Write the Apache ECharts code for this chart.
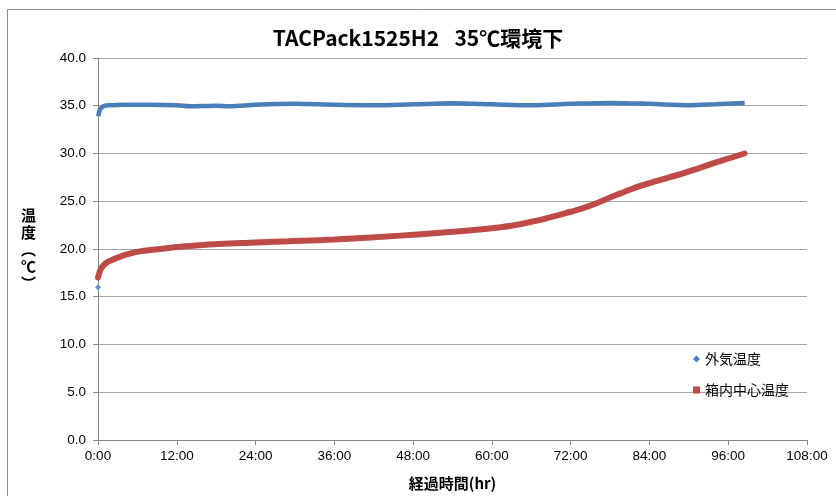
<!DOCTYPE html>
<html><head><meta charset="utf-8">
<script src="https://cdn.jsdelivr.net/npm/echarts@6/dist/echarts.min.js"></script>
<style>html,body{margin:0;padding:0;background:#fff}#c{width:836px;height:496px}</style>
</head><body><div id="c"></div>
<script>
const titleText = 'TACPack1525H2\u2002 35℃環境下';
const seriesNames = ['外気温度', '箱内中心温度'];
const xTicks = [0, 12, 24, 36, 48, 60, 72, 84, 96, 108];
const outsideFirstHour = [0];
const outsideFirstValue = [16.0];
const outsideHours = [0.05, 0.15, 0.3, 0.6, 1, 2, 4, 8, 12, 14, 18, 20, 24, 30, 36, 42, 48, 54, 60, 66, 72, 78, 84, 90, 94, 98.5];
const outsideValues = [33.9, 34.3, 34.6, 34.85, 35.0, 35.05, 35.1, 35.1, 35.05, 34.95, 35.0, 34.95, 35.1, 35.2, 35.1, 35.05, 35.15, 35.25, 35.15, 35.05, 35.2, 35.3, 35.2, 35.05, 35.15, 35.3];
const innerHours = [0, 0.2, 0.5, 1, 1.5, 2.3, 3, 4, 5, 6.4, 8, 9.4, 12, 15.5, 23, 29, 36, 46, 54, 61, 64.3, 66, 68, 70.4, 72, 74, 76.5, 78, 79.5, 81, 82.6, 85, 87, 89, 91.7, 95, 98.5];
const innerValues = [17.0, 17.5, 18.0, 18.4, 18.65, 18.9, 19.1, 19.35, 19.55, 19.75, 19.9, 20.0, 20.2, 20.4, 20.65, 20.8, 21.0, 21.4, 21.8, 22.25, 22.6, 22.85, 23.15, 23.6, 23.9, 24.3, 24.95, 25.4, 25.8, 26.2, 26.6, 27.1, 27.5, 27.9, 28.5, 29.25, 30.0];

const pair = (xs, ys) => xs.map((x, i) => [x, ys[i]]);
const blue = '#4a7ebb', red = '#be4b48';
const font = "'Liberation Sans', 'Noto Sans CJK JP', sans-serif";
const jp = "'Noto Sans CJK JP', sans-serif";

const chart = echarts.init(document.getElementById('c'), null, {renderer: 'canvas'});
chart.setOption({
  animation: false,
  backgroundColor: '#fff',
  graphic: [{type: 'rect', shape: {x: 7.5, y: 9.5, width: 900, height: 600}, style: {fill: 'none', stroke: '#8c8c8c', lineWidth: 1}, silent: true, z: -1}],
  title: {text: titleText, left: 'center', top: 23, textStyle: {fontFamily: jp, fontSize: 21, fontWeight: 'bold', color: '#000'}},
  grid: {left: 98, right: 29, top: 58, bottom: 56},
  legend: {
    orient: 'vertical', left: 688, top: 347, itemGap: 17, itemWidth: 7, itemHeight: 7,
    textStyle: {fontFamily: jp, fontSize: 14, color: '#000'},
    data: [{name: seriesNames[0], icon: 'diamond', itemStyle: {color: blue}}, {name: seriesNames[1], icon: 'rect', itemStyle: {color: red}}]
  },
  xAxis: {
    type: 'value', min: xTicks[0], max: xTicks[xTicks.length - 1], interval: 12,
    name: '経過時間(hr)', nameLocation: 'middle', nameGap: 36,
    nameTextStyle: {fontFamily: jp, fontSize: 15, fontWeight: 'bold', color: '#000'},
    axisLine: {lineStyle: {color: '#868686', width: 1}},
    axisTick: {show: true, length: 5, lineStyle: {color: '#868686'}},
    axisLabel: {fontFamily: font, fontSize: 13.5, color: '#000', margin: 10, formatter: v => v + ':00'},
    splitLine: {show: false}
  },
  yAxis: {
    type: 'value', min: 0, max: 40, interval: 5,
    name: '温\n度\n︵\n℃\n︶', nameLocation: 'middle', nameGap: 62, nameRotate: 0,
    nameTextStyle: {fontFamily: jp, fontSize: 15, fontWeight: 'bold', color: '#000', lineHeight: 17},
    axisLine: {show: true, lineStyle: {color: '#868686', width: 1}},
    axisTick: {show: true, length: 5, lineStyle: {color: '#868686'}},
    axisLabel: {fontFamily: font, fontSize: 13.5, color: '#000', margin: 12, formatter: v => v.toFixed(1)},
    splitLine: {lineStyle: {color: '#a6a6a6', width: 1}}
  },
  series: [
    {name: seriesNames[0], type: 'line', data: pair(outsideHours, outsideValues), smooth: 0.3, showSymbol: false,
     lineStyle: {color: blue, width: 4.5}, itemStyle: {color: blue}},
    {name: seriesNames[0], type: 'scatter', data: pair(outsideFirstHour, outsideFirstValue), symbol: 'diamond', symbolSize: 6,
     itemStyle: {color: blue}},
    {name: seriesNames[1], type: 'line', data: pair(innerHours, innerValues), smooth: 0.4, showSymbol: false,
     lineStyle: {color: red, width: 6, cap: 'round'}, itemStyle: {color: red}}
  ]
});
</script></body></html>
